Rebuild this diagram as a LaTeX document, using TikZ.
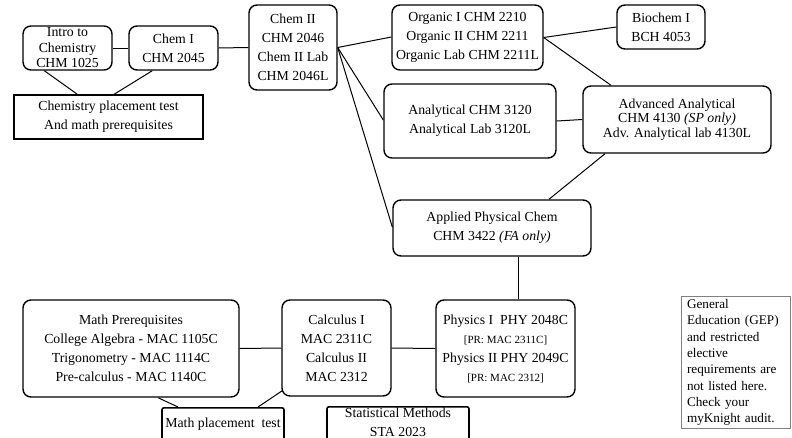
\documentclass[tikz,border=0pt]{standalone}
\usepackage{fontspec}
\setmainfont{Liberation Serif}

\begin{document}
\begin{tikzpicture}[x=1pt, y=-1pt]
        \tikzstyle{course}=[draw, line width=1.4pt, rounded corners=8pt, align=center, inner sep=1pt, font=\fontsize{13.8}{19}\selectfont];
        \tikzstyle{tight}=[font=\fontsize{13.8}{14.5}\selectfont];
        \tikzstyle{test}=[draw, line width=1.6pt, align=center, inner sep=1pt, font=\fontsize{13.8}{19}\selectfont];
        \tikzstyle{note}=[draw=gray, line width=0.8pt, align=left, text width=97pt, inner xsep=6pt, font=\fontsize{13.2}{16.3}\selectfont];
        \tikzstyle{link}=[line width=1pt];
        \useasboundingbox (0,0) rectangle (792,437);
        \clip (0,0) rectangle (792,437);

        % chemistry chain
        \node[course, minimum width=89pt, minimum height=44pt, font=\fontsize{13.8}{15.5}\selectfont] (intro) at (67.5,48) {Intro to\\Chemistry\\CHM 1025};
        \node[course, minimum width=89pt, minimum height=44pt] (chemI) at (173.5,48) {Chem I\\CHM 2045};
        \node[course, minimum width=88pt, minimum height=85pt] (chemII) at (293,47.5) {Chem II\\CHM 2046\\Chem II Lab\\CHM 2046L};
        \node[test, minimum width=189pt, minimum height=44pt] (chemtest) at (108.5,117) {Chemistry placement test\\And math prerequisites};

        % upper level
        \node[course, minimum width=151pt, minimum height=65pt] (organic) at (467.5,37.5) {Organic I CHM 2210\\Organic II CHM 2211\\Organic Lab CHM 2211L};
        \node[course, minimum width=88pt, minimum height=44pt] (biochem) at (661,27) {Biochem I\\BCH 4053};
        \node[course, minimum width=172pt, minimum height=74pt] (analyt) at (470,121) {Analytical CHM 3120\\Analytical Lab 3120L};
        \node[course, tight, minimum width=188pt, minimum height=67pt] (advanal) at (677,119.5) {Advanced Analytical\\CHM 4130 \textit{(SP only)}\\Adv. Analytical lab 4130L};
        \node[course, minimum width=198pt, minimum height=56pt] (applied) at (492,228) {Applied Physical Chem\\CHM 3422 \textit{(FA only)}};

        % math and physics
        \node[course, minimum width=216pt, minimum height=97pt] (mathpre) at (131,348.5) {Math Prerequisites\\College Algebra - MAC 1105C\\Trigonometry - MAC 1114C\\Pre-calculus - MAC 1140C};
        \node[course, minimum width=109pt, minimum height=96pt] (calc) at (336.5,348) {Calculus I\\MAC 2311C\\Calculus II\\MAC 2312};
        \node[course, minimum width=139pt, minimum height=97pt] (phys) at (505.5,348.5) {Physics I\enspace PHY 2048C\\{\fontsize{11}{19}\selectfont [PR: MAC 2311C]}\\Physics II PHY 2049C\\{\fontsize{11}{19}\selectfont [PR: MAC 2312]}};
        \node[test, rounded corners=2pt, anchor=north, minimum width=122pt, inner ysep=10pt, text depth=20pt] (mathtest) at (223,407) {Math placement\ \ test};
        \node[test, rounded corners=2pt, anchor=north, minimum width=142pt, inner ysep=1.5pt, text depth=20pt] (stats) at (398,406) {Statistical Methods\\STA 2023};

        % note
        \node[note, minimum width=109pt, minimum height=129pt] (gep) at (735.5,362.5) {General\\Education (GEP)\\and restricted\\elective\\requirements are\\not listed here.\\Check your\\myKnight audit.};

        % connectors
        \draw[link] (intro.east) -- (chemI.west);
        \draw[link] (chemI.east) -- (chemII.west);
        \draw[link] (intro.south west) ++(22,0) coordinate (i1) (chemtest.north west) ++(64,0) coordinate (t1);
        \draw[link] (i1) -- (t1);
        \draw[link] (chemI.south west) ++(24,0) coordinate (c1) (chemtest.north west) ++(101,0) coordinate (t2);
        \draw[link] (c1) -- (t2);
        \coordinate (c2) at (chemII.east);
        \draw[link] (c2) -- (organic.west |- 0,37);
        \draw[link] (c2) -- (analyt.west |- 0,120);
        \draw[link] (c2) -- (applied.west |- 0,227);
        \draw[link] (organic.east) -- (biochem.west |- 0,27);
        \draw[link] (organic.east) -- (advanal.north west -| 611,0);
        \draw[link] (analyt.east) -- (advanal.west);
        \draw[link] (advanal.south west -| 605,0) -- (applied.north east -| 549,0);
        \draw[link] (applied.south -| 518,0) -- (phys.north -| 518,0);
        \draw[link] (mathpre.east) -- (calc.west);
        \draw[link] (calc.east) -- (phys.west);
        \draw[link] (mathpre.south -| 158,0) -- (mathtest.north -| 178,0);
        \draw[link] (calc.south west) ++(1,-6) coordinate (c3);
        \draw[link] (c3) -- (mathtest.north -| 258,0);
\end{tikzpicture}
\end{document}
